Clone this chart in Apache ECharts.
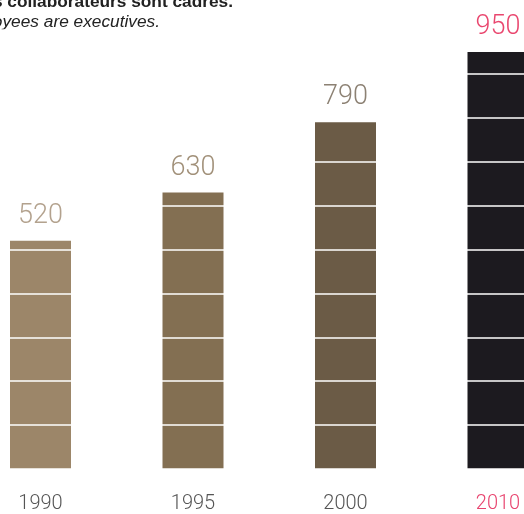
<!DOCTYPE html>
<html><head><meta charset="utf-8">
<script src="https://cdn.jsdelivr.net/npm/echarts@6/dist/echarts.min.js"></script>
<style>html,body{margin:0;padding:0;background:#fff}#c{width:524px;height:514px}</style>
</head><body><div id="c"></div>
<script>
const years = ['1990', '1995', '2000', '2010'];
const values = [520, 630, 790, 950];
const barColors = ['#9c8669', '#836f52', '#6b5b46', '#1c1a1f'];
const valueLabelColors = ['#a08b72', '#8a7457', '#6f6150', '#e3184a'];
const yearLabelColors = ['#555555', '#555555', '#555555', '#e8436e'];
const titleFr = 'des collaborateurs sont cadres.';
const titleEn = 'of employees are executives.';

const positions = years.map((y, i) => i);
const barData = values.map((v, i) => ({value: [positions[i], v], itemStyle: {color: barColors[i]}}));
const labelData = values.map((v, i) => ({value: [positions[i], v], label: {color: valueLabelColors[i]}}));

const chart = echarts.init(document.getElementById('c'), null, {renderer: 'canvas'});
chart.setOption({
  animation: false,
  backgroundColor: '#ffffff',
  grid: {left: 0, right: 0, top: 30, bottom: 44, containLabel: false},
  xAxis: {
    type: 'value', min: -0.2656, max: 3.1705,
    axisLine: {show: false}, axisTick: {show: false}, splitLine: {show: false},
    axisLabel: {
      customValues: positions,
      formatter: (v) => years[Math.round(v)],
      color: (v) => yearLabelColors[Math.round(v)],
      margin: 25, fontSize: 20, fontFamily: 'Roboto', fontWeight: 300
    }
  },
  yAxis: {
    type: 'value', min: 0, max: 1000, interval: 100, z: 5,
    axisLabel: {show: false}, axisLine: {show: false}, axisTick: {show: false},
    splitLine: {show: true, lineStyle: {color: '#ffffff', width: 1.5}}
  },
  series: [{
    type: 'bar',
    barWidth: 61,
    z: 2,
    data: barData
  }, {
    type: 'scatter',
    symbolSize: 0,
    z: 10,
    silent: true,
    data: labelData,
    label: {show: true, position: 'top', distance: 11, fontSize: 27, fontFamily: 'Roboto', fontWeight: 300,
      formatter: (p) => String(p.value[1])}
  }],
  graphic: [
    {type: 'text', x: 233, y: 2.5, style: {text: titleFr, textAlign: 'right', textVerticalAlign: 'middle', fill: '#222', font: 'bold 17.3px "Liberation Sans Narrow", "Liberation Sans", sans-serif'}},
    {type: 'text', x: 160, y: 22.5, style: {text: titleEn, textAlign: 'right', textVerticalAlign: 'middle', fill: '#222', font: 'italic 17.3px "Liberation Sans Narrow", "Liberation Sans", sans-serif'}}
  ]
});
</script></body></html>
